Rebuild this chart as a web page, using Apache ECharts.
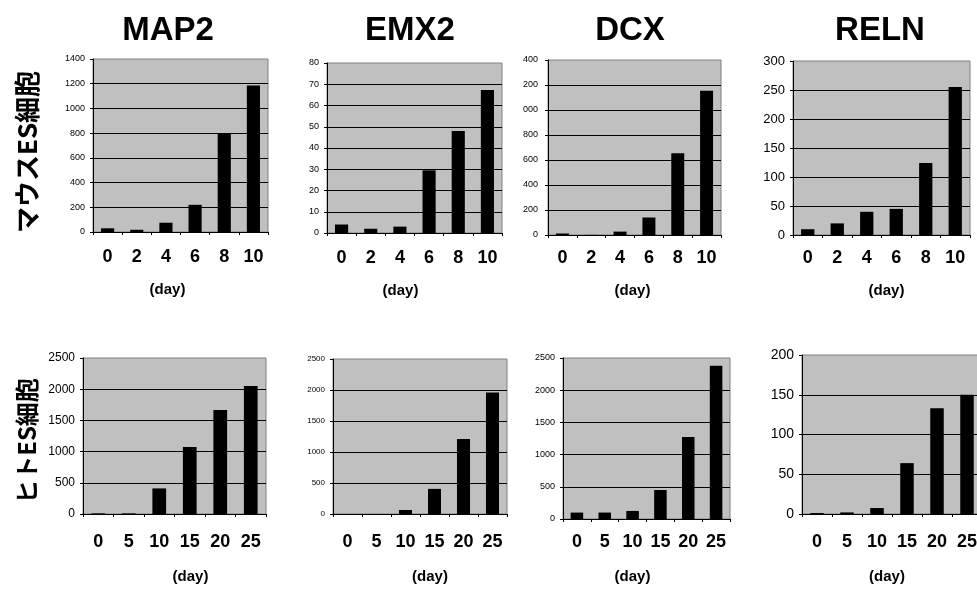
<!DOCTYPE html>
<html>
<head>
<meta charset="utf-8">
<title>神経分化マーカー発現</title>
<script src="https://cdn.jsdelivr.net/npm/echarts@6/dist/echarts.min.js"></script>
<style>
html, body { margin: 0; padding: 0; width: 977px; height: 597px; overflow: hidden; background: #fff; }
.box { position: absolute; }
</style>
</head>
<body>
<script>
// categories (day)
const mouseDays = ['0', '2', '4', '6', '8', '10'];
const humanDays = ['0', '5', '10', '15', '20', '25'];
const genes = ['MAP2', 'EMX2', 'DCX', 'RELN'];
const rowNames = ['マウスES細胞', 'ヒトES細胞'];

// マウスES細胞
const mouseMAP2 = [30, 18, 75, 220, 800, 1185];
const mouseEMX2 = [4, 2, 3, 29.5, 48, 67.3];
const mouseDCX = [12, 1, 27, 140, 655, 1155];
const mouseRELN = [10, 20, 40, 45, 124, 255];

// ヒトES細胞
const humanMAP2 = [10, 10, 410, 1075, 1665, 2050];
const humanEMX2 = [0, 0, 65, 405, 1210, 1960];
const humanDCX = [100, 100, 125, 450, 1275, 2380];
const humanRELN = [1.2, 2, 7.5, 64, 133, 150];

// y axis max / step
const mouseMax = [1400, 80, 1400, 300];
const mouseStep = [200, 10, 200, 50];
const humanMax = [2500, 2500, 2500, 200];
const humanStep = [500, 500, 500, 50];

const FONT = '"Liberation Sans", Arial, sans-serif';

// layout: div box [left, top, w, h], plot [x0, y0, x1, y1] in page px
const panels = [
  { box: [45, 40, 235, 270], plot: [93, 59, 268, 232], fs: 9, ym: 8, lab: 16, gap: 50, shift: -13, cats: mouseDays, data: mouseMAP2, max: mouseMax[0], step: mouseStep[0] },
  { box: [290, 40, 222, 270], plot: [327, 63, 502, 233], fs: 9, ym: 8, lab: 16, gap: 50, shift: -14, cats: mouseDays, data: mouseEMX2, max: mouseMax[1], step: mouseStep[1] },
  { box: [523, 40, 208, 270], plot: [548, 60, 721, 235], fs: 9, ym: 10, lab: 14, gap: 48, shift: -2, cats: mouseDays, data: mouseDCX, max: mouseMax[2], step: mouseStep[2] },
  { box: [745, 40, 232, 270], plot: [793, 61, 970, 235], fs: 13, ym: 8, lab: 14, gap: 48, shift: 5, cats: mouseDays, data: mouseRELN, max: mouseMax[3], step: mouseStep[3] },
  { box: [40, 330, 240, 267], plot: [83, 358, 266, 514], fs: 12, ym: 8, lab: 19, gap: 55, shift: 16, cats: humanDays, data: humanMAP2, max: humanMax[0], step: humanStep[0] },
  { box: [290, 330, 230, 267], plot: [333, 359, 507, 514], fs: 8, ym: 8, lab: 19, gap: 55, shift: 10, cats: humanDays, data: humanEMX2, max: humanMax[1], step: humanStep[1] },
  { box: [515, 330, 225, 267], plot: [563, 358, 730, 519], fs: 9, ym: 8, lab: 14, gap: 50, shift: -14, cats: humanDays, data: humanDCX, max: humanMax[2], step: humanStep[2] },
  { box: [745, 330, 232, 267], plot: [802, 355, 982, 514], fs: 14, ym: 8, lab: 19, gap: 55, shift: -5, cats: humanDays, data: humanRELN, max: humanMax[3], step: humanStep[3] }
];

function addDiv(box) {
  const d = document.createElement('div');
  d.className = 'box';
  d.style.left = box[0] + 'px';
  d.style.top = box[1] + 'px';
  d.style.width = box[2] + 'px';
  d.style.height = box[3] + 'px';
  document.body.appendChild(d);
  return d;
}

// page: titles and row labels
const page = echarts.init(addDiv([0, 0, 977, 597]), null, { renderer: 'canvas' });
const titleX = [168, 410, 630, 880];
const rowY = [152, 441];
const rowSize = [26, 24];
page.setOption({
  animation: false,
  graphic: genes.map((g, i) => ({
    type: 'text', x: titleX[i], y: 31,
    style: { text: g, font: 'bold 33px ' + FONT, fill: '#000', align: 'center', verticalAlign: 'middle' }
  })).concat(rowNames.map((t, i) => ({
    type: 'text', x: 27, y: rowY[i], rotation: Math.PI / 2,
    style: { text: t, font: 'bold ' + rowSize[i] + 'px "Noto Sans CJK JP", sans-serif', fill: '#000', align: 'center', verticalAlign: 'middle' }
  })))
});

// 棒グラフ
panels.forEach(p => {
  const chart = echarts.init(addDiv(p.box), null, { renderer: 'canvas' });
  const [dl, dt] = p.box;
  const [x0, y0, x1, y1] = p.plot;
  chart.setOption({
    animation: false,
    grid: {
      left: x0 - dl, top: y0 - dt, width: x1 - x0, height: y1 - y0,
      containLabel: false, outerBoundsMode: 'none',
      show: true, backgroundColor: '#c0c0c0', borderColor: '#808080', borderWidth: 1
    },
    xAxis: {
      type: 'category',
      data: p.cats,
      name: '(day)',
      nameLocation: 'middle',
      nameGap: p.gap,
      nameTextStyle: {
        fontFamily: FONT, fontWeight: 'bold', fontSize: 15, color: '#000',
        padding: p.shift < 0 ? [0, -2 * p.shift, 0, 0] : [0, 0, 0, 2 * p.shift]
      },
      axisLine: { lineStyle: { color: '#000', width: 1 } },
      axisTick: { show: true, length: 3, lineStyle: { color: '#000' } },
      axisLabel: { fontFamily: FONT, fontWeight: 'bold', fontSize: 18, color: '#000', margin: p.lab }
    },
    yAxis: {
      type: 'value',
      min: 0, max: p.max, interval: p.step,
      axisLine: { show: true, lineStyle: { color: '#000', width: 1 } },
      axisTick: { show: true, length: 3, lineStyle: { color: '#000' } },
      axisLabel: { fontFamily: FONT, fontSize: p.fs, color: '#000', margin: p.ym, formatter: v => String(v) },
      splitLine: { show: true, showMaxLine: false, lineStyle: { color: '#000', width: 1 } }
    },
    series: [{
      type: 'bar',
      data: p.data,
      barWidth: '45%',
      itemStyle: { color: '#000' }
    }]
  });
});
</script>
</body>
</html>
